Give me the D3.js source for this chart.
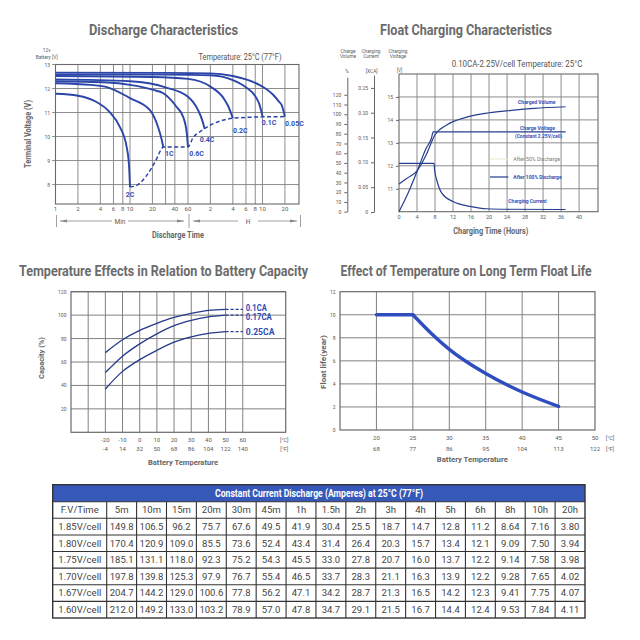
<!DOCTYPE html>
<html>
<head>
<meta charset="utf-8">
<script src="https://cdn.jsdelivr.net/npm/d3@7"></script>
<style>
  body { margin: 0; background: #fff; }
  svg { display: block; font-family: Roboto, "Noto Sans", sans-serif; }
</style>
</head>
<body>
<div id="chart"></div>
<script>
// ---- discharge characteristics (minutes, volts) ----
const dcVolts = [8, 9, 10, 11, 12, 13]
const dcGridMin = [1, 2, 4, 6, 8, 10, 20, 30, 40, 60, 120, 240, 360, 480, 600, 1200]
const dcTickMin = [1, 2, 4, 6, 8, 10, 20, 40, 60, 120, 240, 360, 480, 600, 1200]
const dcTickLabels = ["1", "2", "4", "6", "8", "10", "20", "40", "60", "2", "4", "6", "8", "10", "20"]
const dcRates = ["2C", "1C", "0.6C", "0.4C", "0.2C", "0.1C", "0.05C"]
const dc2C = [[1, 11.78], [2, 11.7], [3.5, 11.45], [5.3, 11.03], [7.3, 10.4], [9, 9.58], [9.7, 8.8], [10, 7.9]]
const dc1C = [[1, 12.22], [3, 12.15], [5, 12.05], [10, 11.6], [18.5, 11.1], [23.8, 10.4], [26.5, 9.9], [28, 9.56]]
const dc06C = [[1, 12.3], [5, 12.25], [10, 12.15], [20, 11.95], [28, 11.8], [42, 11.24], [52, 10.8], [58, 10.1], [60, 9.56]]
const dc04C = [[1, 12.38], [10, 12.3], [30, 12.05], [60, 11.66], [82, 11.1], [95, 10.6], [100, 10.33]]
const dc02C = [[1, 12.52], [20, 12.48], [60, 12.4], [120, 12.08], [180, 11.6], [210, 11.24], [240, 10.76]]
const dc01C = [[1, 12.59], [30, 12.58], [120, 12.55], [240, 12.35], [360, 12.05], [480, 11.68], [540, 11.38], [600, 10.85]]
const dc005C = [[1, 12.66], [30, 12.65], [120, 12.63], [240, 12.52], [360, 12.38], [600, 12.08], [840, 11.73], [1000, 11.45], [1090, 11.3], [1200, 10.83]]
const dcCutoff = [[10, 7.9], [12, 7.95], [16.5, 8.35], [20, 8.75], [23, 9.1], [25.5, 9.4], [28, 9.56], [60, 9.56], [70, 9.95], [87, 10.2], [100, 10.33], [240, 10.76], [600, 10.82], [1200, 10.83]]

// ---- float charging (hours) ----
const fcHours = [0, 4, 8, 12, 16, 20, 24, 28, 32, 36, 40]
const fcVolts = [11, 12, 13, 14, 15]
const fcVolumeTicks = [0, 10, 20, 30, 40, 50, 60, 70, 80, 90, 100, 110, 120]
const fcCurrentTicks = [0, 0.05, 0.10, 0.15, 0.20, 0.25]
const fcVolume = [[0, 28.5], [1.7, 34], [4, 42], [6, 58], [8, 79], [10.6, 89], [15, 97], [20, 101.5], [25, 104], [30, 106], [37, 107.7]]
const fcVoltage = [[0, 10.0], [2, 10.8], [4, 11.75], [6, 12.75], [7.2, 13.2], [7.6, 13.48], [37, 13.48]]
const fcCurrent = [[0, 0.098], [7.8, 0.098], [7.9, 0.085], [8.4, 0.064], [9.5, 0.038], [12, 0.021], [16, 0.011], [19.5, 0.0065], [24, 0.0055], [37, 0.005]]

// ---- temperature vs capacity ----
const capTempC = [-20, -10, 0, 10, 20, 30, 40, 50, 60]
const capTempF = [-4, 14, 32, 50, 68, 86, 104, 122, 140]
const capGrid = [-30, -20, -10, 0, 10, 20, 30, 40, 50, 60]
const capTicks = [20, 40, 60, 80, 100, 120]
const capRates = ["0.1CA", "0.17CA", "0.25CA"]
const cap01 = [[-20, 68], [-10, 79], [0, 87], [10, 93], [20, 98], [30, 101.5], [40, 104], [50, 105]]
const cap017 = [[-20, 51], [-10, 65], [0, 75.5], [10, 84], [20, 91], [30, 95.5], [40, 98.5], [50, 100]]
const cap025 = [[-20, 37], [-10, 52], [0, 62], [10, 70], [20, 77], [30, 81.5], [40, 84.5], [50, 86]]
const capExtendTo = 60

// ---- float life ----
const lifeTempC = [20, 25, 30, 35, 40, 45, 50]
const lifeTempF = [68, 77, 86, 95, 104, 113, 122]
const lifeTicks = [0, 2, 4, 6, 8, 10, 12]
const lifeFlat = [[20, 10], [25, 10]]
const lifeYears = [[25, 10], [27.5, 8.4], [30, 7], [35, 4.9], [40, 3.3], [45, 2.05]]

// ---- constant current discharge table ----
const tblTimes = ["5m", "10m", "15m", "20m", "30m", "45m", "1h", "1.5h", "2h", "3h", "4h", "5h", "6h", "8h", "10h", "20h"]
const tblVolts = ["1.85V/cell", "1.80V/cell", "1.75V/cell", "1.70V/cell", "1.67V/cell", "1.60V/cell"]
const tbl185 = ["149.8", "106.5", "96.2", "75.7", "67.6", "49.5", "41.9", "30.4", "25.5", "18.7", "14.7", "12.8", "11.2", "8.64", "7.16", "3.80"]
const tbl180 = ["170.4", "120.9", "109.0", "85.5", "73.6", "52.4", "43.4", "31.4", "26.4", "20.3", "15.7", "13.4", "12.1", "9.09", "7.50", "3.94"]
const tbl175 = ["185.1", "131.1", "118.0", "92.3", "75.2", "54.3", "45.5", "33.0", "27.8", "20.7", "16.0", "13.7", "12.2", "9.14", "7.58", "3.98"]
const tbl170 = ["197.8", "139.8", "125.3", "97.9", "76.7", "55.4", "46.5", "33.7", "28.3", "21.1", "16.3", "13.9", "12.2", "9.28", "7.65", "4.02"]
const tbl167 = ["204.7", "144.2", "129.0", "100.6", "77.8", "56.2", "47.1", "34.2", "28.7", "21.3", "16.5", "14.2", "12.3", "9.41", "7.75", "4.07"]
const tbl160 = ["212.0", "149.2", "133.0", "103.2", "78.9", "57.0", "47.8", "34.7", "29.1", "21.5", "16.7", "14.4", "12.4", "9.53", "7.84", "4.11"]

const svg = d3.select("#chart").append("svg").attr("width", 640).attr("height", 640)
svg.append("rect").attr("width", 640).attr("height", 640).attr("fill", "#fff")

const blue = "#2b45a8"
const gridColor = "#808080"
const grey = "#5a5a5a"

function txt(x, y, s, size, o = {}) {
  const t = svg.append("text").attr("x", x).attr("y", y)
    .attr("text-anchor", o.anchor || "middle")
    .style("font-size", size + "px")
    .style("font-weight", o.weight || 400)
    .style("fill", o.fill || grey)
    .text(s)
  if (o.len) t.attr("textLength", o.len).attr("lengthAdjust", "spacingAndGlyphs")
  if (o.rotate) t.attr("transform", `rotate(-90 ${x} ${y})`)
  return t
}

function grid(g, x, y, xs, ys, color, w) {
  const [x0, x1] = x.range(), [y0, y1] = y.range()
  g.selectAll(null).data(ys).join("line")
    .attr("x1", x0).attr("x2", x1).attr("y1", d => y(d)).attr("y2", d => y(d))
    .attr("stroke", color).attr("stroke-width", w)
  g.selectAll(null).data(xs).join("line")
    .attr("x1", d => x(d)).attr("x2", d => x(d)).attr("y1", y0).attr("y2", y1)
    .attr("stroke", color).attr("stroke-width", w)
  g.append("rect").attr("x", x0).attr("y", y1).attr("width", x1 - x0).attr("height", y0 - y1)
    .attr("fill", "none").attr("stroke", "#6a6a6a").attr("stroke-width", w + 0.2)
}

// titles
const titleFill = "#6b6b6b"
txt(163.5, 35, "Discharge Characteristics", 15.5, { weight: 700, fill: titleFill, len: 149 })
txt(466, 35, "Float Charging Characteristics", 15.5, { weight: 700, fill: titleFill, len: 172 })
txt(163.5, 276, "Temperature Effects in Relation to Battery Capacity", 15.5, { weight: 700, fill: titleFill, len: 289 })
txt(466, 276, "Effect of Temperature on Long Term Float Life", 15.5, { weight: 700, fill: titleFill, len: 251 })

// ================= discharge characteristics =================
const dcX = d3.scaleLog().domain([1, 1855]).range([55.5, 299])
const dcY = d3.scaleLinear().domain([7.19, 13]).range([204, 64.5])
const g1 = svg.append("g")
grid(g1, dcX, dcY, dcGridMin, dcVolts, gridColor, 0.9)

g1.selectAll(".ytk").data(dcVolts).join("line")
  .attr("x1", 52).attr("x2", 55.5).attr("y1", d => dcY(d)).attr("y2", d => dcY(d))
  .attr("stroke", "#777").attr("stroke-width", 0.8)
g1.selectAll(".ylb").data(dcVolts).join("text")
  .attr("x", 50).attr("y", d => dcY(d) + 2)
  .attr("text-anchor", "end").style("font-size", "5px").style("fill", grey)
  .text(d => d)
g1.selectAll(".xlb").data(dcTickMin).join("text")
  .attr("x", d => dcX(d)).attr("y", 211)
  .attr("text-anchor", "middle").style("font-size", "6px").style("fill", grey)
  .text((d, i) => dcTickLabels[i])

const dcLine = d3.line().x(d => dcX(d[0])).y(d => dcY(d[1])).curve(d3.curveMonotoneX)
const dcCurves = [dc2C, dc1C, dc06C, dc04C, dc02C, dc01C, dc005C]
g1.selectAll(".dc").data(dcCurves).join("path")
  .attr("d", dcLine).attr("fill", "none").attr("stroke", blue).attr("stroke-width", 1.9)
g1.append("path").attr("d", dcLine(dcCutoff)).attr("fill", "none")
  .attr("stroke", blue).attr("stroke-width", 1.5).attr("stroke-dasharray", "4,2.5")

// rate labels beside each end point
const dcLabelOffset = [[0, 10], [6, 9], [8.5, 9], [2.5, 13], [7.5, 15], [6.5, 9], [9.5, 9]]
g1.selectAll(".dcl").data(dcCurves).join("text")
  .attr("x", (d, i) => dcX(d[d.length - 1][0]) + dcLabelOffset[i][0])
  .attr("y", (d, i) => dcY(d[d.length - 1][1]) + dcLabelOffset[i][1])
  .attr("text-anchor", "middle").style("font-size", "7px").style("font-weight", 700)
  .style("fill", "#3550b5").text((d, i) => dcRates[i])

txt(46.7, 52, "12v", 4.8)
txt(46.7, 58.5, "Battery [V]", 4.8)
txt(240, 59.5, "Temperature: 25°C (77°F)", 9, { fill: "#555", len: 83 })
txt(31, 134, "Terminal Voltage (V)", 8.5, { weight: 700, fill: "#666", rotate: true, len: 68 })

// Min / H arrows
const arr = svg.append("g").attr("stroke", "#888").attr("stroke-width", 0.8).attr("fill", "#888")
const arrowY = 221
;[[56.5, 215, 227], [189, 214, 228], [300.5, 215, 227]].forEach(d => {
  arr.append("line").attr("x1", d[0]).attr("x2", d[0]).attr("y1", d[1]).attr("y2", d[2])
})
;[[60, 112], [128, 184], [193, 238], [258, 297]].forEach((d, i) => {
  arr.append("line").attr("x1", d[0]).attr("x2", d[1]).attr("y1", arrowY).attr("y2", arrowY)
  const tip = i % 2 === 0 ? d[0] : d[1]
  const dir = i % 2 === 0 ? 1 : -1
  arr.append("path").attr("stroke", "none")
    .attr("d", `M${tip},${arrowY} L${tip + dir * 7},${arrowY - 1.6} L${tip + dir * 7},${arrowY + 1.6} Z`)
})
txt(120, 223.5, "Min", 6.5)
txt(248, 223.5, "H", 6.5)
txt(178, 238, "Discharge Time", 8.5, { weight: 700, fill: "#666", len: 52 })

// ================= float charging =================
const fcX = d3.scaleLinear().domain([0, 44.2]).range([399, 598])
const fcV = d3.scaleLinear().domain([10, 16]).range([211.7, 74])
const fcPct = d3.scaleLinear().domain([0, 138]).range([211.7, 77.2])
const fcCA = d3.scaleLinear().domain([0, 0.276]).range([212, 75])
const g2 = svg.append("g")
grid(g2, fcX, fcV, fcHours.slice(1), fcVolts, gridColor, 0.9)

function sideAxis(scale, x, ticks, fmt) {
  const a = svg.append("g").attr("transform", `translate(${x},0)`)
    .call(d3.axisLeft(scale).tickValues(ticks).tickSize(3).tickSizeOuter(0).tickFormat(fmt))
  a.select(".domain").attr("stroke", "#666").attr("stroke-width", 1)
  a.selectAll(".tick line").attr("stroke", "#666")
  a.selectAll(".tick text").style("font-size", "5px").style("fill", grey).style("font-family", "Roboto, sans-serif")
  return a
}
sideAxis(fcPct, 347.3, fcVolumeTicks, d3.format("d"))
sideAxis(fcCA, 374, fcCurrentTicks, d => d === 0 ? "0" : d3.format(".2f")(d))
const va = sideAxis(fcV, 399, fcVolts, d3.format("d"))
va.select(".domain").remove()

g2.selectAll(".xlb").data(fcHours).join("text")
  .attr("x", d => fcX(d)).attr("y", 219)
  .attr("text-anchor", "middle").style("font-size", "5.5px").style("fill", grey)
  .text(d => d)

txt(348, 52.5, "Charge", 4.8)
txt(348, 58, "Volume", 4.8)
txt(371, 52.5, "Charging", 4.8)
txt(371, 58, "Current", 4.8)
txt(398, 52.5, "Charging", 4.8)
txt(398, 58, "Voltage", 4.8)
txt(347, 73, "%", 4.8)
txt(371.7, 73, "[XCA]", 4.8)
txt(399.5, 72, "[V]", 4.8)

const fcLine = (yScale) => d3.line().x(d => fcX(d[0])).y(d => yScale(d[1])).curve(d3.curveMonotoneX)
g2.append("path").attr("d", fcLine(fcPct)(fcVolume)).attr("fill", "none").attr("stroke", "#263f8f").attr("stroke-width", 1.2)
g2.append("path").attr("d", fcLine(fcV)(fcVoltage)).attr("fill", "none").attr("stroke", "#263f8f").attr("stroke-width", 1.2)
g2.append("path").attr("d", fcLine(fcCA)(fcCurrent)).attr("fill", "none").attr("stroke", "#263f8f").attr("stroke-width", 1.2)

txt(451.7, 66.5, "0.10CA-2.25V/cell   Temperature: 25°C", 9, { anchor: "start", fill: "#555", len: 130.6 })
const lb = "#3550b5"
txt(536.8, 104.3, "Charged Volume", 5.5, { weight: 700, fill: lb, len: 37.5 })
txt(537.5, 129.7, "Charge Voltage", 5.5, { weight: 700, fill: lb, len: 35 })
txt(538.6, 137.7, "(Constant 2.25V/cell)", 5.5, { weight: 700, fill: lb, len: 47.3 })
svg.append("line").attr("x1", 490).attr("x2", 508).attr("y1", 159).attr("y2", 159).attr("stroke", "#f1ead0").attr("stroke-width", 1.2)
txt(536.7, 161, "After 50% Discharge", 5.5, { fill: "#777", len: 46.7 })
svg.append("line").attr("x1", 490).attr("x2", 508.3).attr("y1", 177).attr("y2", 177).attr("stroke", "#263f8f").attr("stroke-width", 1.2)
txt(537.5, 179, "After 100% Discharge", 5.5, { weight: 700, fill: lb, len: 48.3 })
txt(527.5, 203, "Charging Current", 5.5, { weight: 700, fill: lb, len: 38.3 })
txt(490.8, 233.5, "Charging Time (Hours)", 8.5, { weight: 700, fill: "#666", len: 75 })

// ================= temperature vs capacity =================
const capX = d3.scaleLinear().domain([-40, 85]).range([71, 285.7])
const capY = d3.scaleLinear().domain([0, 120]).range([432.3, 291.7])
const g3 = svg.append("g")
grid(g3, capX, capY, capGrid, capTicks, gridColor, 1)
g3.selectAll(".ylb").data(capTicks).join("text")
  .attr("x", 66.5).attr("y", d => capY(d) + 2).attr("text-anchor", "end")
  .style("font-size", "5px").style("fill", grey).text(d => d)
g3.selectAll(".xc").data(capTempC).join("text")
  .attr("x", d => capX(d)).attr("y", 441.5).attr("text-anchor", "middle")
  .style("font-size", "6px").style("fill", grey).text(d => d)
g3.selectAll(".xf").data(capTempF).join("text")
  .attr("x", (d, i) => capX(capTempC[i])).attr("y", 450.5).attr("text-anchor", "middle")
  .style("font-size", "6px").style("fill", grey).text(d => d)
txt(284.3, 441.5, "[°C]", 5.5)
txt(284.3, 451, "[°F]", 5.5)
txt(183, 465, "Battery Temperature", 8, { weight: 700, fill: "#666", len: 70 })
txt(44, 358, "Capacity (%)", 8, { weight: 700, fill: "#666", rotate: true, len: 42 })

const capLine = d3.line().x(d => capX(d[0])).y(d => capY(d[1])).curve(d3.curveMonotoneX)
const capCurves = [cap01, cap017, cap025]
g3.selectAll(".cap").data(capCurves).join("path")
  .attr("d", capLine).attr("fill", "none").attr("stroke", "#26398a").attr("stroke-width", 1.3)
g3.selectAll(".capx").data(capCurves).join("path")
  .attr("d", d => capLine([d[d.length - 1], [capExtendTo, d[d.length - 1][1]]]))
  .attr("fill", "none").attr("stroke", "#26398a").attr("stroke-width", 1.3).attr("stroke-dasharray", "3,2")
const capLabelLen = [21, 26, 28.7]
const capLabelDy = [-1.8, 2, 0]
g3.selectAll(".capl").data(capCurves).join("text")
  .attr("x", capX(capExtendTo) + 3).attr("y", (d, i) => capY(d[d.length - 1][1]) + 3.2 + capLabelDy[i])
  .attr("textLength", (d, i) => capLabelLen[i]).attr("lengthAdjust", "spacingAndGlyphs")
  .style("font-size", "9px").style("font-weight", 700).style("fill", "#2f4cb5")
  .text((d, i) => capRates[i])

// ================= float life =================
const lifeX = d3.scaleLinear().domain([15, 50]).range([340, 595])
const lifeY = d3.scaleLinear().domain([0, 12]).range([430, 291.7])
const g4 = svg.append("g")
grid(g4, lifeX, lifeY, lifeTempC.slice(0, -1), lifeTicks.slice(1, -1), gridColor, 1)
g4.selectAll(".ylb").data(lifeTicks).join("text")
  .attr("x", 335.5).attr("y", d => lifeY(d) + 2).attr("text-anchor", "end")
  .style("font-size", "5px").style("fill", grey).text(d => d)
g4.selectAll(".xc").data(lifeTempC).join("text")
  .attr("x", d => lifeX(d)).attr("y", 440).attr("text-anchor", "middle")
  .style("font-size", "6px").style("fill", grey).text(d => d)
g4.selectAll(".xf").data(lifeTempF).join("text")
  .attr("x", (d, i) => lifeX(lifeTempC[i])).attr("y", 450.5).attr("text-anchor", "middle")
  .style("font-size", "6px").style("fill", grey).text(d => d)
txt(610, 440, "[°C]", 5.5)
txt(610, 450.5, "[°F]", 5.5)
txt(472.3, 461.5, "Battery Temperature", 8, { weight: 700, fill: "#666", len: 71 })
txt(325.5, 362, "Float  life(year)", 8, { weight: 700, fill: "#666", rotate: true, len: 54 })

const lifeCurve = d3.line().x(d => lifeX(d[0])).y(d => lifeY(d[1])).curve(d3.curveMonotoneX)
const lifeStraight = d3.line().x(d => lifeX(d[0])).y(d => lifeY(d[1]))
g4.selectAll(".life").data([lifeStraight(lifeFlat), lifeCurve(lifeYears)]).join("path")
  .attr("d", d => d).attr("fill", "none")
  .attr("stroke", "#2f4dbf").attr("stroke-width", 3.4).attr("stroke-linecap", "round")

// ================= table =================
const tblRows = [tbl185, tbl180, tbl175, tbl170, tbl167, tbl160]
const tX0 = 52.7, tX1 = 585, tTop = 484.7, tBarH = 17
const colX = d3.scaleBand().domain(tblTimes).range([106.7, tX1])
const rowY = d3.scaleBand().domain(["F.V/Time"].concat(tblVolts)).range([tTop + tBarH, 618])
const g5 = svg.append("g")
g5.append("rect").attr("x", tX0).attr("y", tTop).attr("width", tX1 - tX0).attr("height", tBarH).attr("fill", "#3658b8")
txt(319, 496.5, "Constant Current Discharge (Amperes) at 25°C (77°F)", 10, { weight: 700, fill: "#fff", len: 208 })

const bh = rowY.bandwidth()
g5.selectAll(".hl").data(rowY.domain()).join("line")
  .attr("x1", tX0).attr("x2", tX1).attr("y1", d => rowY(d)).attr("y2", d => rowY(d))
  .attr("stroke", "#333").attr("stroke-width", 1.1)
g5.selectAll(".vl").data([106.7].concat(tblTimes.slice(1).map(d => colX(d)))).join("line")
  .attr("x1", d => d).attr("x2", d => d).attr("y1", rowY.range()[0]).attr("y2", rowY.range()[1])
  .attr("stroke", "#333").attr("stroke-width", 1.1)
g5.append("rect").attr("x", tX0).attr("y", tTop).attr("width", tX1 - tX0).attr("height", 618 - tTop)
  .attr("fill", "none").attr("stroke", "#333").attr("stroke-width", 1.4)

const cellStyle = s => s.attr("text-anchor", "middle").style("font-size", "9.5px").style("fill", "#444")
g5.append("text").attr("x", (tX0 + 106.7) / 2).attr("y", rowY("F.V/Time") + bh / 2 + 3.4).call(cellStyle).text("F.V/Time")
g5.selectAll(".th").data(tblTimes).join("text")
  .attr("x", d => colX(d) + colX.bandwidth() / 2).attr("y", rowY("F.V/Time") + bh / 2 + 3.4)
  .call(cellStyle).text(d => d)
tblVolts.forEach((v, r) => {
  g5.append("text").attr("x", (tX0 + 106.7) / 2).attr("y", rowY(v) + bh / 2 + 3.4).call(cellStyle).text(v)
  g5.selectAll(null).data(tblRows[r]).join("text")
    .attr("x", (d, i) => colX(tblTimes[i]) + colX.bandwidth() / 2).attr("y", rowY(v) + bh / 2 + 3.4)
    .call(cellStyle).text(d => d)
})
</script>
</body>
</html>
